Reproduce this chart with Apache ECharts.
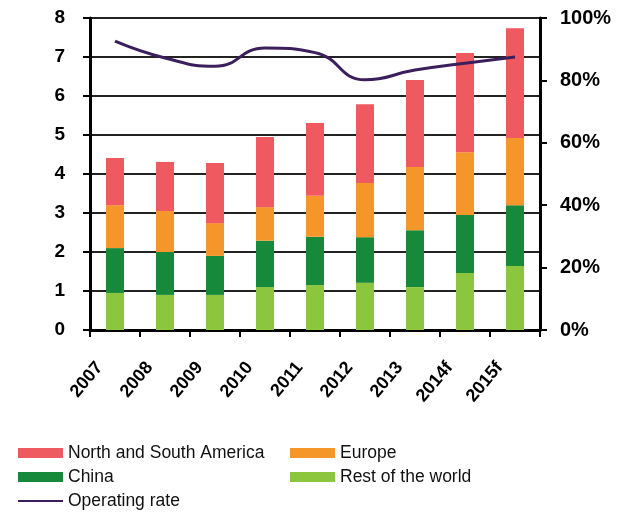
<!DOCTYPE html>
<html>
<head>
<meta charset="utf-8">
<script src="https://cdn.jsdelivr.net/npm/echarts@6/dist/echarts.min.js"></script>
<style>
  html, body { margin: 0; padding: 0; background: #fff; }
  #chart { width: 620px; height: 514px; }
</style>
</head>
<body>
<div id="chart"></div>
<script>
// 数据
const years = ['2007', '2008', '2009', '2010', '2011', '2012', '2013', '2014f', '2015f']
const restOfWorld = [0.95, 0.9, 0.9, 1.1, 1.15, 1.21, 1.1, 1.46, 1.64]
const china = [1.15, 1.1, 1.0, 1.19, 1.24, 1.17, 1.46, 1.49, 1.56]
const europe = [1.1, 1.05, 0.84, 0.86, 1.05, 1.39, 1.62, 1.61, 1.72]
const americas = [1.21, 1.26, 1.54, 1.8, 1.87, 2.02, 2.23, 2.54, 2.82]
const operatingRate = [92.6, 87.2, 84.5, 90.4, 88.9, 80.2, 83.3, 85.5, 87.5]

const chart = echarts.init(document.getElementById('chart'))

const barCommon = {
  type: 'bar',
  stack: 'total',
  barWidth: 18,
  yAxisIndex: 0
}

const legendText = {
  color: '#111',
  fontSize: 17.5,
  fontFamily: 'Liberation Sans, Arial, sans-serif'
}

const option = {
  backgroundColor: '#fff',
  animation: false,
  grid: {
    left: 90,
    right: 80,
    top: 18,
    bottom: 184
  },
  legend: [
    {
      orient: 'vertical',
      left: 17,
      top: 444,
      padding: 0,
      itemWidth: 45,
      itemHeight: 10,
      itemGap: 6,
      textStyle: legendText,
      data: [
        { name: 'North and South America', icon: 'rect' },
        { name: 'China', icon: 'rect' },
        { name: 'Operating rate', itemStyle: { color: 'rgba(0,0,0,0)', borderWidth: 0 } }
      ]
    },
    {
      orient: 'vertical',
      left: 290,
      top: 444,
      padding: 0,
      itemWidth: 45,
      itemHeight: 10,
      itemGap: 6,
      textStyle: legendText,
      data: [
        { name: 'Europe', icon: 'rect' },
        { name: 'Rest of the world', icon: 'rect' }
      ]
    }
  ],
  xAxis: {
    type: 'category',
    data: years,
    axisLine: { lineStyle: { color: '#000', width: 3 } },
    axisTick: { show: true, alignWithLabel: false, length: 7, lineStyle: { color: '#000', width: 2 } },
    axisLabel: {
      rotate: 50,
      color: '#000',
      fontSize: 18,
      fontWeight: 'bold',
      fontFamily: 'Liberation Sans, Arial, sans-serif',
      margin: 16,
      padding: [0, 24, 0, 0]
    }
  },
  yAxis: [
    {
      type: 'value',
      min: 0,
      max: 8,
      interval: 1,
      axisLine: { show: true, lineStyle: { color: '#000', width: 3 } },
      axisTick: { show: true, length: 7, lineStyle: { color: '#000', width: 2 } },
      axisLabel: {
        color: '#000',
        fontSize: 19,
        fontWeight: 'bold',
        fontFamily: 'Liberation Sans, Arial, sans-serif',
        margin: 25
      },
      splitLine: { show: true, lineStyle: { color: '#222', width: 2 } }
    },
    {
      type: 'value',
      min: 0,
      max: 100,
      interval: 20,
      position: 'right',
      axisLine: { show: true, lineStyle: { color: '#000', width: 3 } },
      axisTick: { show: true, length: 7, lineStyle: { color: '#000', width: 2 } },
      axisLabel: {
        formatter: '{value}%',
        color: '#000',
        fontSize: 20,
        fontWeight: 'bold',
        fontFamily: 'Liberation Sans, Arial, sans-serif',
        margin: 20
      },
      splitLine: { show: false }
    }
  ],
  series: [
    Object.assign({}, barCommon, { name: 'Rest of the world', data: restOfWorld, itemStyle: { color: '#8cc63e' } }),
    Object.assign({}, barCommon, { name: 'China', data: china, itemStyle: { color: '#17893b' } }),
    Object.assign({}, barCommon, { name: 'Europe', data: europe, itemStyle: { color: '#f5962a' } }),
    Object.assign({}, barCommon, { name: 'North and South America', data: americas, itemStyle: { color: '#ef5a60' } }),
    {
      name: 'Operating rate',
      type: 'line',
      yAxisIndex: 1,
      data: operatingRate,
      smooth: 0.5,
      symbol: 'none',
      lineStyle: { color: '#3b1f5c', width: 3 },
      itemStyle: { color: '#3b1f5c' },
      z: 5
    }
  ]
}

chart.setOption(option)
</script>
</body>
</html>
